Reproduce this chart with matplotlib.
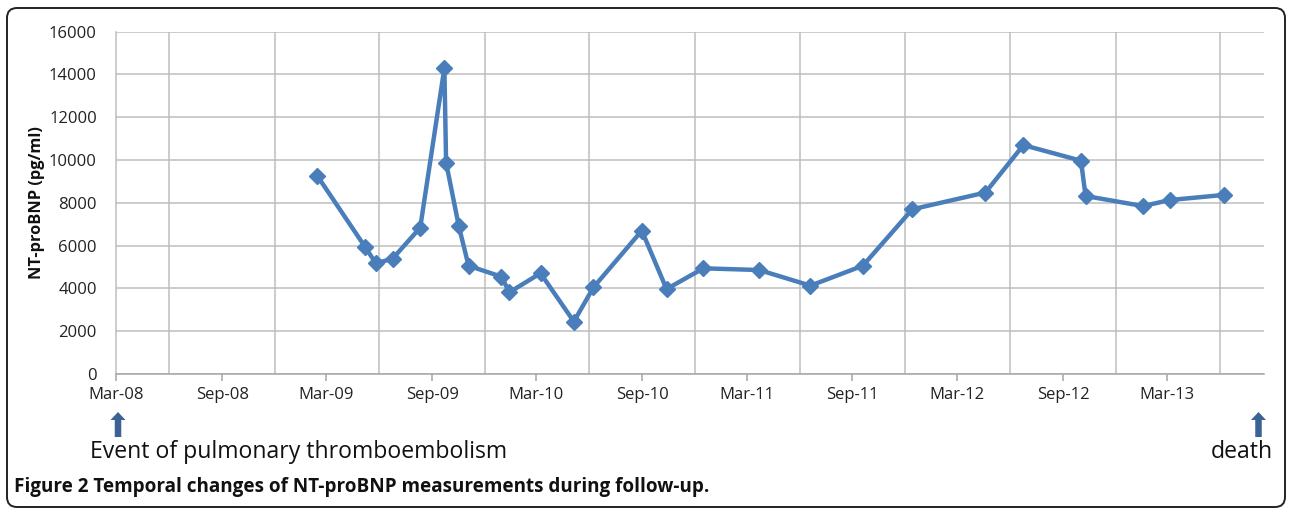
import matplotlib
matplotlib.use("Agg")
import matplotlib.pyplot as plt
import matplotlib.dates as mdates
from matplotlib.patches import FancyBboxPatch, FancyArrow
from matplotlib.transforms import IdentityTransform
import pandas as pd

dates = ["2009-02-13", "2009-05-07", "2009-05-26", "2009-06-24", "2009-08-11",
         "2009-09-22", "2009-09-25", "2009-10-17", "2009-11-03", "2009-12-30",
         "2010-01-13", "2010-03-08", "2010-05-05", "2010-06-08", "2010-08-31",
         "2010-10-13", "2010-12-16", "2011-03-23", "2011-06-20", "2011-09-19",
         "2011-12-14", "2012-04-19", "2012-06-24", "2012-10-02", "2012-10-10",
         "2013-01-18", "2013-03-05", "2013-06-07"]
ntprobnp = [9270, 5950, 5170, 5390, 6840,
            14300, 9880, 6920, 5060, 4550,
            3820, 4710, 2450, 4050, 6700,
            3970, 4940, 4860, 4130, 5060,
            7700, 8480, 10700, 9970, 8320,
            7850, 8130, 8370]
y_ticks = [0, 2000, 4000, 6000, 8000, 10000, 12000, 14000, 16000]
x_start = "2008-03-01"
x_end = "2013-08-16"
ylabel = "NT-proBNP (pg/ml)"
event_label = "Event of pulmonary thromboembolism"
death_label = "death"
caption = "Figure 2 Temporal changes of NT-proBNP measurements during follow-up."

plt.rcParams['font.family'] = ['Open Sans', 'DejaVu Sans']

W, H = 1289, 511
fig = plt.figure(figsize=(W / 100, H / 100), dpi=100)

# rounded frame
rad = 10 / W
frame = FancyBboxPatch((7 / W, 4 / H), (W - 11) / W, (H - 12) / H,
                       boxstyle=f"round,pad=0,rounding_size={rad}",
                       transform=fig.transFigure, fill=False,
                       edgecolor="#222222", linewidth=1.4, mutation_aspect=W / H)
fig.patches.append(frame)

ax = fig.add_axes([116.3 / W, (H - 374) / H, (1264 - 116.3) / W, 342.3 / H])
x = pd.to_datetime(dates)
ax.plot(x, ntprobnp, color="#4A7EBB", linewidth=3.2, marker="D",
        markersize=8.5, markerfacecolor="#4A7EBB", markeredgecolor="#4A7EBB",
        zorder=3, clip_on=False)

ax.set_xlim(pd.Timestamp(x_start), pd.Timestamp(x_end))
ax.set_ylim(0, 16000)
ax.set_yticks(y_ticks)
ax.set_yticklabels([str(v) for v in y_ticks])

ax.xaxis.set_major_locator(mdates.MonthLocator(bymonth=[3, 9]))
ax.xaxis.set_major_formatter(mdates.DateFormatter("%b-%y"))
ax.xaxis.set_minor_locator(mdates.MonthLocator(bymonth=[3, 6, 9, 12]))
ax.grid(True, which="minor", axis="x", color="#BEBEBE", linewidth=1.1)
ax.grid(True, which="major", axis="y", color="#BEBEBE", linewidth=1.1)
ax.set_axisbelow(True)

for s in ["top", "right"]:
    ax.spines[s].set_visible(False)
ax.spines["left"].set_color("#BEBEBE")
ax.spines["bottom"].set_color("#A6A6A6")
ax.spines["left"].set_linewidth(1.1)
ax.spines["bottom"].set_linewidth(1.1)

ax.tick_params(axis="x", which="major", length=5, color="#A6A6A6", width=1.1,
               labelsize=12, pad=4, labelcolor="#222222")
ax.tick_params(axis="x", which="minor", length=0)
ax.tick_params(axis="y", length=0, labelsize=12, pad=14, labelcolor="#222222")
ax.set_ylabel(ylabel, fontsize=11.8, fontweight="bold", labelpad=3, color="#111111")

# arrows (pixel coordinates, origin bottom-left)
arrow_color = "#3A6394"
for xa in [118, 1258.5]:
    fig.add_artist(FancyArrow(xa, H - 437, 0, 25, width=6.5,
                              head_width=15, head_length=8,
                              length_includes_head=True,
                              transform=IdentityTransform(), color=arrow_color,
                              linewidth=0))

fig.text(90 / W, (H - 452) / H, event_label, fontsize=16.6, va="center", ha="left",
         color="#111111")
fig.text(1273 / W, (H - 452) / H, death_label, fontsize=16.6, va="center", ha="right",
         color="#111111")
fig.text(14 / W, (H - 487) / H, caption, fontsize=13.6, fontweight="bold",
         va="center", ha="left", color="#111111")

fig.savefig("out.png", dpi=100)
